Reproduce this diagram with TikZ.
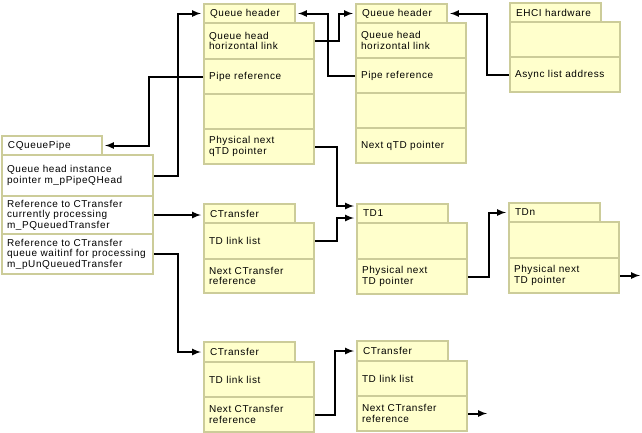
\documentclass[tikz,border=0pt]{standalone}
\usepackage{fontspec}
\setmainfont{Liberation Sans}[LetterSpace=6]
\usepackage{tikz}
\definecolor{boxfill}{HTML}{FFFFCC}
\definecolor{boxline}{HTML}{CCCC99}
\tikzset{
  tab/.style={draw=boxline, fill=boxfill, line width=2pt, anchor=north west, text width=79pt, inner xsep=6pt, inner ysep=0pt, minimum height=19pt, align=left, font=\fontsize{10}{10.5}\selectfont},
  row/.style={draw=boxline, fill=boxfill, line width=2pt, anchor=north west, text width=100pt, inner xsep=5pt, inner ysep=0pt, minimum height=35pt, align=left, font=\fontsize{10}{10.5}\selectfont},
  link/.style={>=latex, ->, line width=2pt, shorten >=2pt}
}

\begin{document}
\begin{tikzpicture}[x=1pt, y=-1pt]

\useasboundingbox (0,0) rectangle (642,432);

\node[tab] (qhA) at (203,3) {Queue header};
\node[row, minimum height=36pt] (qhAa) at (203,22) {Queue head\\horizontal link};
\node[row] (qhAb) at (203,58) {Pipe reference};
\node[row] (qhAc) at (203,93) {};
\node[row] (qhAd) at (203,128) {Physical next\\qTD pointer};

\node[tab] (qhB) at (355,3) {Queue header};
\node[row] (qhBa) at (355,22) {Queue head\\horizontal link};
\node[row] (qhBb) at (355,57) {Pipe reference};
\node[row] (qhBc) at (355,92) {};
\node[row] (qhBd) at (355,127) {Next qTD pointer};

\node[tab] (ehci) at (509,2) {EHCI hardware};
\node[row] (ehciA) at (509,21) {};
\node[row] (ehciB) at (509,56) {Async list address};

\node[tab, fill=white, text width=88pt] (pipe) at (1,135) {CQueuePipe};
\node[row, fill=white, text width=141pt, minimum height=41pt] (pipeA) at (1,154) {Queue head instance\\pointer m\_pPipeQHead};
\node[row, fill=white, text width=141pt, minimum height=38pt] (pipeB) at (1,195) {Reference to CTransfer\\currently processing\\ m\_PQueuedTransfer};
\node[row, fill=white, text width=141pt, minimum height=40pt] (pipeC) at (1,233) {Reference to CTransfer\\queue waitinf for processing\\m\_pUnQueuedTransfer};

\node[tab] (ctA) at (203,203) {CTransfer};
\node[row, minimum height=36pt] (ctAa) at (203,222) {TD link list};
\node[row, minimum height=34pt] (ctAb) at (203,258) {Next CTransfer\\reference};

\node[tab] (tdA) at (356,203) {TD1};
\node[row, minimum height=36pt] (tdAa) at (356,222) {};
\node[row] (tdAb) at (356,258) {Physical next\\TD pointer};

\node[tab] (tdN) at (508,202) {TDn};
\node[row, minimum height=36pt] (tdNa) at (508,221) {};
\node[row] (tdNb) at (508,257) {Physical next\\TD pointer};

\node[tab, minimum height=20pt] (ctB) at (203,341) {CTransfer};
\node[row] (ctBa) at (203,361) {TD link list};
\node[row] (ctBb) at (203,396) {Next CTransfer\\reference};

\node[tab, minimum height=20pt] (ctC) at (356,340) {CTransfer};
\node[row] (ctCa) at (356,360) {TD link list};
\node[row] (ctCb) at (356,395) {Next CTransfer\\reference};

\draw[link] (pipeA.east) -- ++(24,0) |- (qhA.west);
\draw[link] (qhAb.west) -- ++(-54,0) |- (pipe.east);
\draw[link] (qhAa.east) -- ++(24,0) |- (qhB.west);
\draw[link] (qhBb.west) -- ++(-27,0) |- (qhA.east);
\draw[link] (ehciB.west) -- ++(-22,0) |- (qhB.east);
\draw[link] (qhAd.east) -- ++(22,0) |- ([yshift=7.5pt]tdA.west);
\draw[link] (ctAa.east) -- ++(22,0) |- ([yshift=-4.5pt]tdA.west);
\draw[link] (pipeB.east) -- (pipeB.east -| ctA.west);
\draw[link] (pipeC.east) -- ++(24,0) |- (ctB.west);
\draw[link] (tdAb.east) -- ++(21,0) |- (tdN.west);
\draw[link] (tdNb.east) -- ++(22,0);
\draw[link] (ctBb.east) -- ++(20,0) |- (ctC.west);
\draw[link] (ctCb.east) -- ++(21,0);

\end{tikzpicture}
\end{document}
